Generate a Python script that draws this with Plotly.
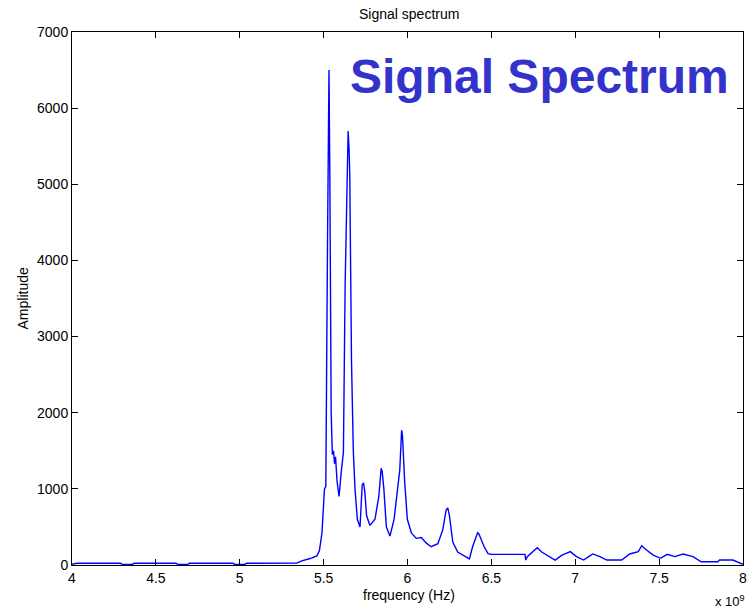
import plotly.graph_objects as go

# Frequency in units of 1e9 Hz, amplitude values
freq_ghz = [
    4.00, 4.03, 4.29, 4.30, 4.36, 4.37, 4.62, 4.63, 4.69, 4.70, 4.96, 4.97, 5.03, 5.04,
    5.34, 5.37, 5.42, 5.46, 5.475, 5.49, 5.505, 5.513, 5.523, 5.532, 5.537, 5.545, 5.552,
    5.559, 5.565, 5.571, 5.580, 5.592, 5.604, 5.618, 5.628, 5.638, 5.646, 5.652, 5.656,
    5.666, 5.677, 5.687, 5.701, 5.717, 5.730, 5.738, 5.746, 5.756, 5.776, 5.806, 5.829,
    5.843, 5.849, 5.859, 5.874, 5.895, 5.920, 5.954, 5.965, 5.970, 5.983, 5.999, 6.023,
    6.052, 6.082, 6.111, 6.141, 6.181, 6.210, 6.230, 6.240, 6.250, 6.270, 6.299, 6.339,
    6.369, 6.388, 6.418, 6.425, 6.437, 6.457, 6.480, 6.501, 6.700, 6.705, 6.714, 6.773,
    6.800, 6.850, 6.880, 6.921, 6.971, 7.007, 7.050, 7.080, 7.105, 7.147, 7.188, 7.277,
    7.324, 7.376, 7.396, 7.425, 7.465, 7.508, 7.548, 7.593, 7.643, 7.702, 7.751, 7.850,
    7.860, 7.939, 7.976, 8.000,
]
amplitude = [
    10, 22, 22, 8, 8, 22, 22, 8, 8, 22, 22, 8, 8, 22,
    25, 55, 85, 120, 190, 420, 1000, 1030, 4180, 6500, 5120, 2000, 1450,
    1500, 1330, 1420, 1100, 900, 1200, 1480, 3650, 5100, 5700, 5450, 5100,
    2700, 1500, 1000, 600, 500, 1050, 1080, 950, 650, 520, 600, 900,
    1270, 1230, 1000, 500, 380, 600, 1250, 1770, 1700, 1100, 600, 420,
    350, 360, 290, 240, 280, 460, 720, 750, 650, 300, 170, 120,
    80, 240, 424, 410, 340, 240, 150, 140, 140, 65, 110, 227,
    170, 100, 65, 130, 175, 110, 65, 110, 145, 110, 65, 65,
    145, 175, 253, 197, 131, 88, 140, 110, 145, 110, 43, 43,
    65, 65, 30, 10,
]

x_tick_values = [4, 4.5, 5, 5.5, 6, 6.5, 7, 7.5, 8]
x_tick_labels = ["4", "4.5", "5", "5.5", "6", "6.5", "7", "7.5", "8"]
y_tick_values = [0, 1000, 2000, 3000, 4000, 5000, 6000, 7000]

freq_hz = [f * 1e9 for f in freq_ghz]

FONT = "Liberation Sans, Arial, sans-serif"

fig = go.Figure()
fig.add_trace(go.Scatter(
    x=freq_hz, y=amplitude, mode="lines",
    line=dict(color="#0000FF", width=1.4),
    showlegend=False, hoverinfo="skip",
))

axis_common = dict(
    showline=True, linecolor="black", linewidth=1, mirror="ticks",
    ticks="inside", ticklen=6, tickcolor="black", tickwidth=1,
    showgrid=False, zeroline=False,
    tickfont=dict(family=FONT, size=14, color="black"),
)

fig.update_xaxes(
    range=[4e9, 8e9],
    tickvals=[v * 1e9 for v in x_tick_values], ticktext=x_tick_labels,
    **axis_common,
)
fig.update_yaxes(
    range=[0, 7000], tickvals=y_tick_values,
    **axis_common,
)

annotations = [
    dict(text="Signal spectrum", x=0.502, y=1.0, xref="paper", yref="paper",
         xanchor="center", yanchor="bottom", yshift=8, showarrow=False,
         font=dict(family=FONT, size=14, color="black")),
    dict(text="frequency (Hz)", x=0.502, y=0, xref="paper", yref="paper",
         xanchor="center", yanchor="top", yshift=-20, showarrow=False,
         font=dict(family=FONT, size=14, color="black")),
    dict(text="Amplitude", x=0, y=0.5, xref="paper", yref="paper",
         xanchor="center", yanchor="middle", xshift=-50, textangle=-90, showarrow=False,
         font=dict(family=FONT, size=14, color="black")),
    dict(text="x 10<sup>9</sup>", x=1.0, y=0, xref="paper", yref="paper",
         xanchor="right", yanchor="top", xshift=4, yshift=-26, showarrow=False,
         font=dict(family=FONT, size=13, color="black")),
    dict(text="<b>Signal Spectrum</b>", x=0.412, y=0.917, xref="paper", yref="paper",
         xanchor="left", yanchor="middle", showarrow=False,
         font=dict(family=FONT, size=48, color="#3333CC")),
]

fig.update_layout(
    width=754, height=611,
    margin=dict(l=72, r=7, t=32, b=46, pad=0),
    paper_bgcolor="white", plot_bgcolor="white",
    annotations=annotations,
)

fig.write_html("out.html")
